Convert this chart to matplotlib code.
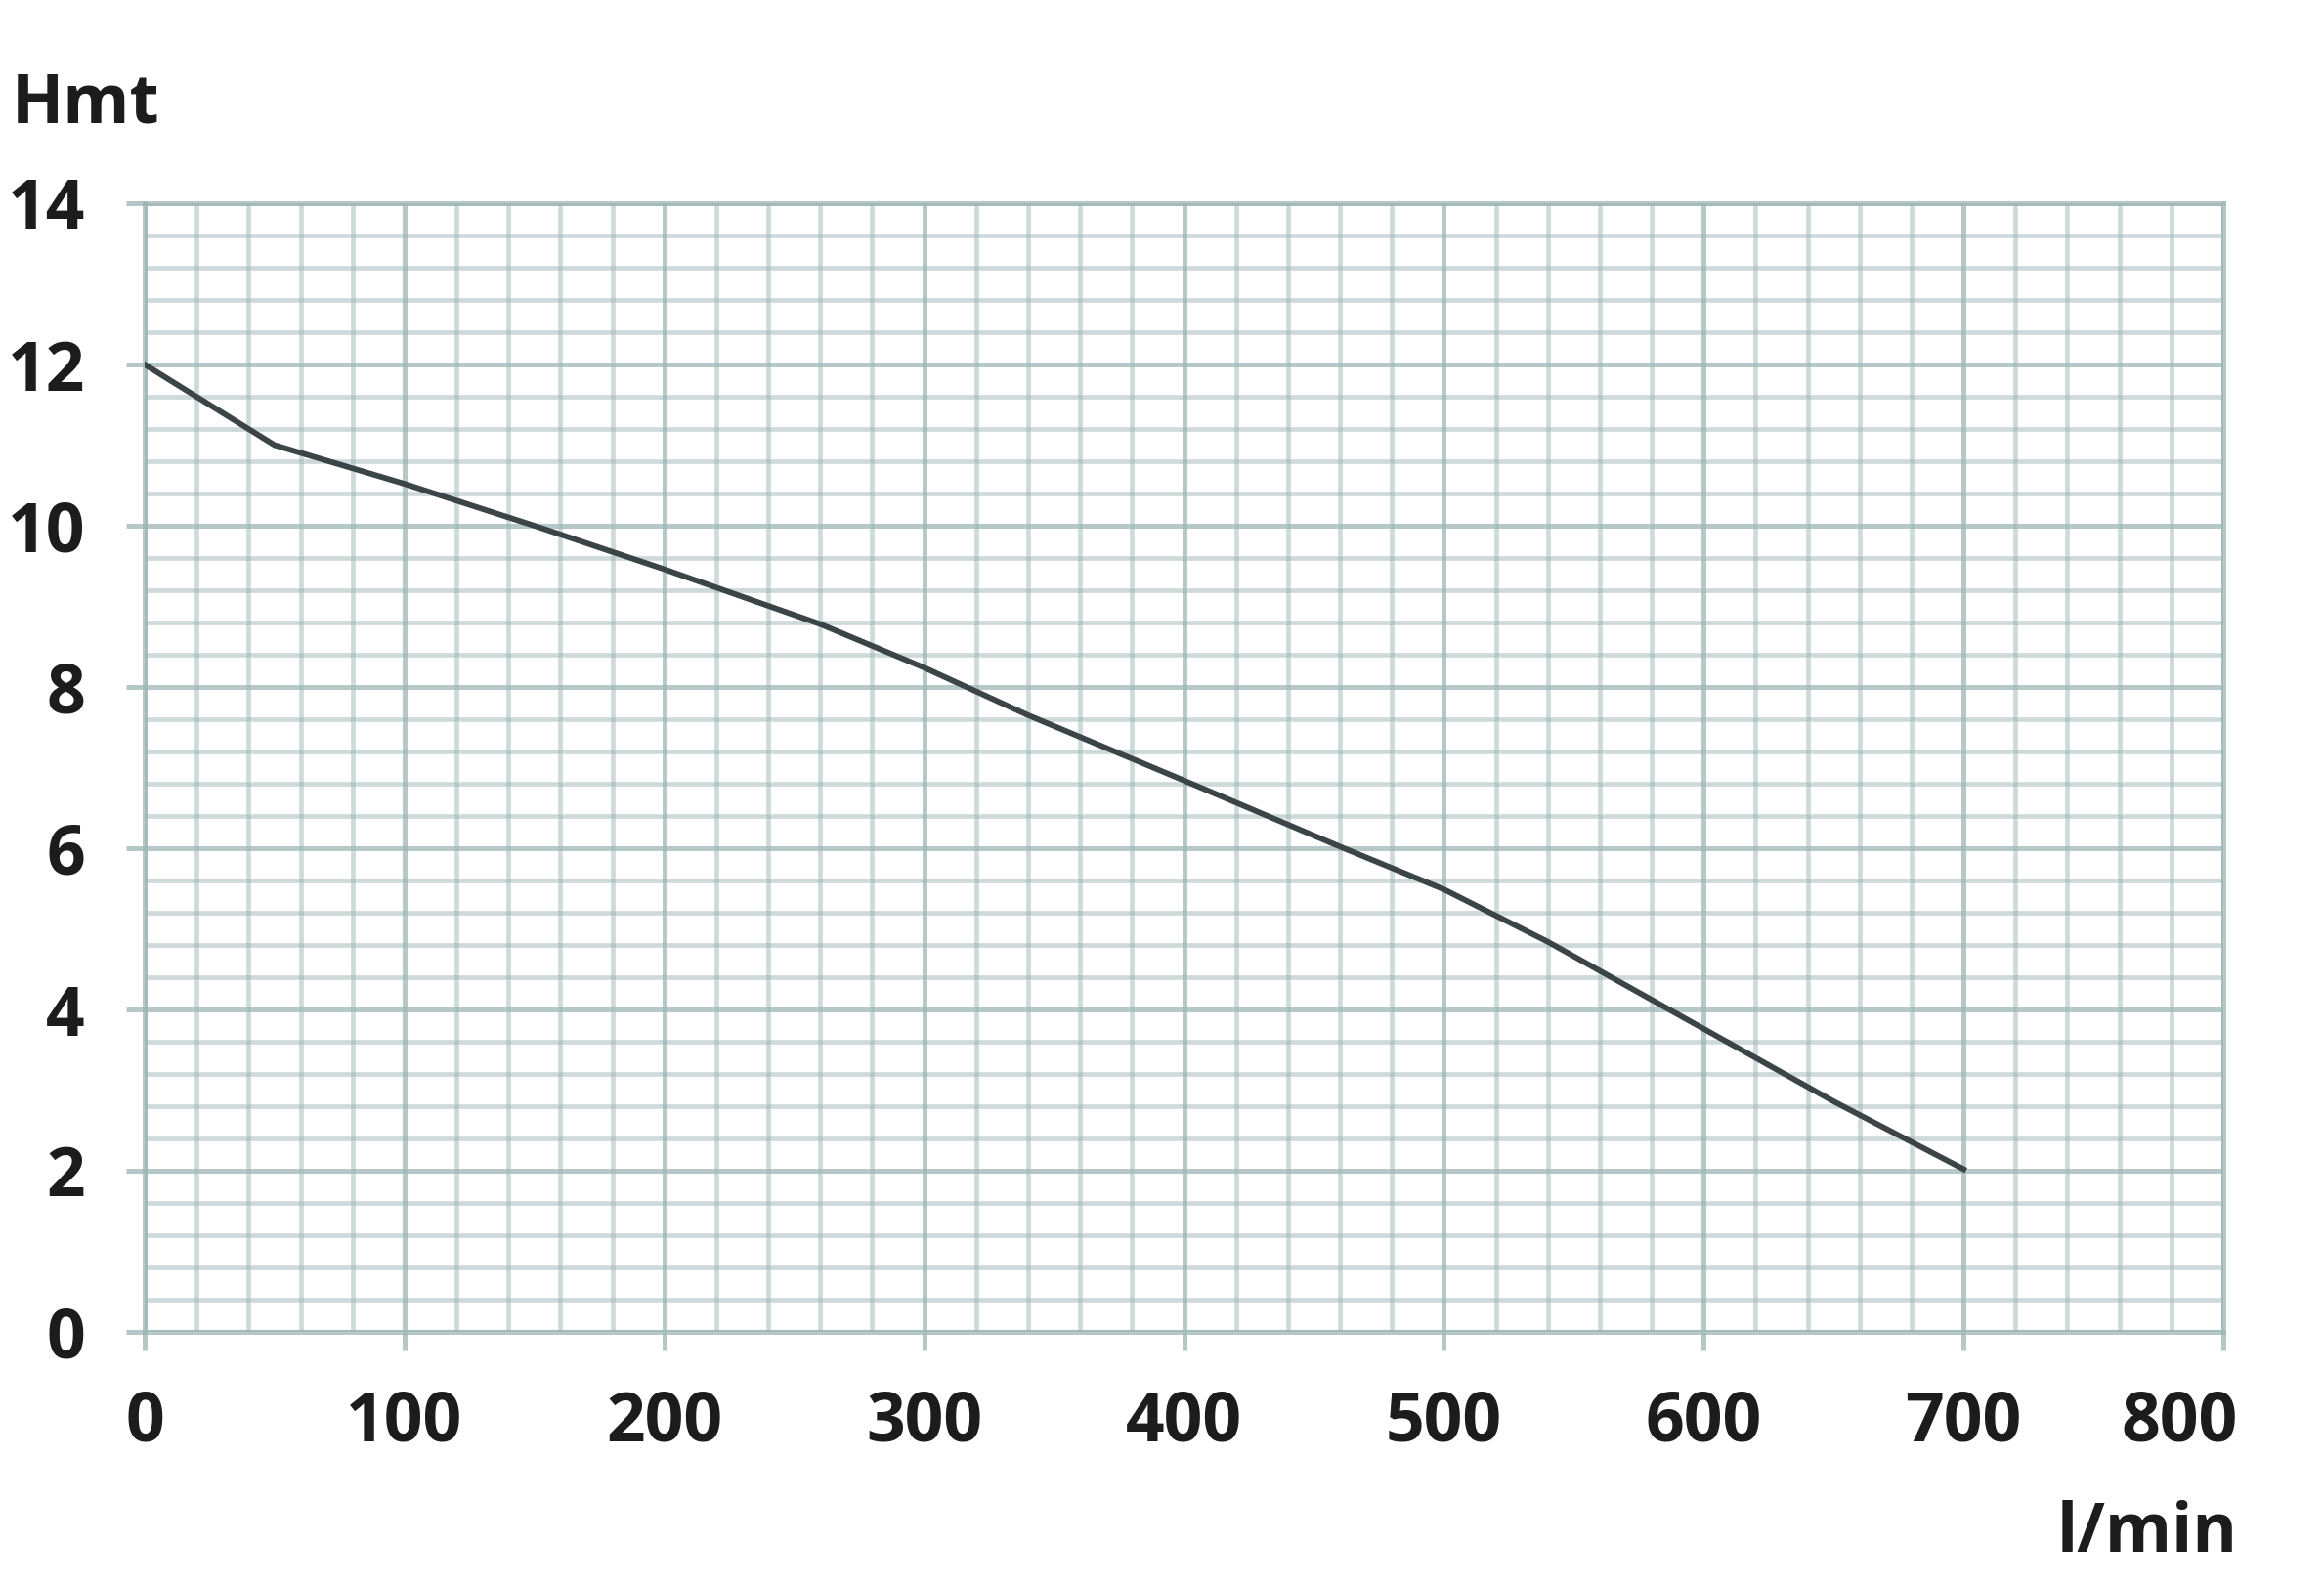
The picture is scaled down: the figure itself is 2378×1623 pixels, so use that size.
import matplotlib
matplotlib.use("Agg")
import matplotlib.pyplot as plt
import matplotlib.transforms as mtransforms
import numpy as np

# Data
flow_lpm = [0, 50, 100, 150, 200, 260, 300, 340, 400, 460, 500, 540, 600, 650, 700]
head_m = [12.0, 11.0, 10.52, 10.0, 9.46, 8.78, 8.24, 7.65, 6.84, 6.02, 5.49, 4.84, 3.76, 2.86, 2.02]

x_ticks = [0, 100, 200, 300, 400, 500, 600, 700, 800]
y_ticks = [0, 2, 4, 6, 8, 10, 12, 14]
x_label = "l/min"
y_label = "Hmt"

W, H = 2378, 1623
DPI = 100
fig = plt.figure(figsize=(W / DPI, H / DPI), dpi=DPI)
ax = fig.add_axes([148 / W, 1 - 1363 / H, (2275 - 148) / W, (1363 - 208) / H])

grid_col = "#9fb6b6"
ax.set_xlim(0, 800)
ax.set_ylim(0, 14)
ax.set_xticks(x_ticks)
ax.set_yticks(y_ticks)
ax.set_xticks(np.arange(0, 801, 20), minor=True)
ax.set_yticks(np.arange(0, 14.01, 0.4), minor=True)

ax.grid(which="minor", color=grid_col, alpha=0.5, linewidth=3.4)
ax.grid(which="major", color=grid_col, alpha=0.75, linewidth=3.6)
ax.set_axisbelow(True)

for s in ax.spines.values():
    s.set_color(grid_col)
    s.set_alpha(0.75)
    s.set_linewidth(3.6)

ax.tick_params(which="major", direction="out", length=14, width=3.6,
               color=(0.62, 0.71, 0.71, 0.75))
ax.tick_params(which="minor", length=0)

font = dict(family=["Open Sans", "DejaVu Sans"], weight="bold", size=50, color="#1c1c1c")
ax.set_xticklabels([str(v) for v in x_ticks], **font)
ax.set_yticklabels([str(v) for v in y_ticks], **font)
ax.tick_params(axis="y", pad=30)
ax.tick_params(axis="x", pad=28)

# last x label sits inside the figure edge, as in the reference
last = ax.get_xticklabels()[-1]
last.set_transform(last.get_transform() + mtransforms.ScaledTranslation(-45 / DPI, 0, fig.dpi_scale_trans))

ax.plot(flow_lpm, head_m, color="#3b4548", linewidth=4.2, solid_joinstyle="round", zorder=5)

fig.text(12 / W, 1 - 107 / H, y_label, ha="left", va="center", **font)
fig.text(2290 / W, 1 - 1570 / H, x_label, ha="right", va="center", **font)

fig.savefig("out.png", dpi=DPI, facecolor="white")
